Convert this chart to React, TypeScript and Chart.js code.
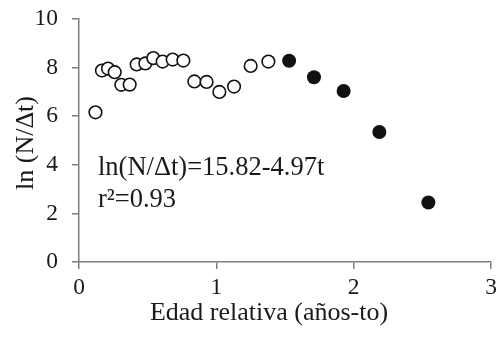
import React, { useEffect, useRef } from "react";
import { Chart, registerables } from "chart.js";

Chart.register(...registerables);

const openX = [0.12, 0.167, 0.211, 0.26, 0.308, 0.369, 0.42, 0.483, 0.541, 0.609, 0.682, 0.76, 0.84, 0.929, 1.022, 1.129, 1.25, 1.379];
const openY = [6.16, 7.88, 7.96, 7.81, 7.29, 7.3, 8.13, 8.17, 8.39, 8.25, 8.33, 8.29, 7.43, 7.41, 7.0, 7.22, 8.07, 8.25];
const filledX = [1.53, 1.711, 1.927, 2.187, 2.544];
const filledY = [8.28, 7.6, 7.04, 5.35, 2.45];

const xTicks = [0, 1, 2, 3];
const yTicks = [0, 2, 4, 6, 8, 10];

const xTitle = "Edad relativa (años-to)";
const yTitle = "ln (N/Δt)";
const eqLine1 = "ln(N/Δt)=15.82-4.97t";
const eqLine2 = "r²=0.93";

const FONT = "'Liberation Serif', 'Times New Roman', serif";

export default function App() {
  const ref = useRef<HTMLCanvasElement | null>(null);

  useEffect(() => {
    const canvas = ref.current;
    if (!canvas) return;

    const textPlugin = {
      id: "textPlugin",
      afterDraw(chart: any) {
        const ctx = chart.ctx;
        ctx.save();
        ctx.fillStyle = "#1a1a1a";
        ctx.font = `26px ${FONT}`;
        // x title
        ctx.textAlign = "center";
        ctx.textBaseline = "alphabetic";
        ctx.fillText(xTitle, 269, 320);
        // y title
        ctx.save();
        ctx.translate(33, 143);
        ctx.rotate(-Math.PI / 2);
        ctx.textAlign = "center";
        ctx.textBaseline = "alphabetic";
        ctx.fillText(yTitle, 0, 0);
        ctx.restore();
        // equation
        ctx.font = `26.5px ${FONT}`;
        ctx.textAlign = "left";
        ctx.fillText(eqLine1, 98, 175);
        ctx.fillText(eqLine2, 98, 207);
        ctx.restore();
      },
    };

    const zeroPad = (s: any) => {
      s.paddingTop = 0;
      s.paddingBottom = 0;
      s.paddingLeft = 0;
      s.paddingRight = 0;
    };

    const chart = new Chart(canvas, {
      type: "scatter",
      data: {
        datasets: [
          {
            label: "open",
            data: openX.map((x, i) => ({ x, y: openY[i] })),
            pointStyle: "circle",
            pointRadius: 6.3,
            pointBorderWidth: 1.6,
            borderColor: "#111",
            backgroundColor: "#fff",
          },
          {
            label: "filled",
            data: filledX.map((x, i) => ({ x, y: filledY[i] })),
            pointStyle: "circle",
            pointRadius: 7,
            pointBorderWidth: 0,
            borderColor: "#111",
            backgroundColor: "#111",
          },
        ],
      },
      options: {
        animation: false,
        responsive: false,
        devicePixelRatio: 1,
        layout: { padding: { top: 19, right: 12, left: 0, bottom: 0 } },
        plugins: {
          legend: { display: false },
          tooltip: { enabled: false },
        },
        scales: {
          x: {
            type: "linear",
            min: 0,
            max: 3,
            afterFit: (s: any) => {
              s.height = 75;
              zeroPad(s);
            },
            afterBuildTicks: (s: any) => {
              s.ticks = xTicks.map((v) => ({ value: v }));
            },
            ticks: {
              font: { family: FONT, size: 23.5 },
              color: "#1a1a1a",
              padding: 5,
              maxRotation: 0,
            },
            grid: {
              drawOnChartArea: false,
              drawTicks: true,
              tickLength: 7,
              color: "#7f7f7f",
              lineWidth: 1.5,
            },
            border: { color: "#7f7f7f", width: 1.5 },
          },
          y: {
            type: "linear",
            min: 0,
            max: 10,
            afterFit: (s: any) => {
              s.width = 79;
              zeroPad(s);
            },
            afterBuildTicks: (s: any) => {
              s.ticks = yTicks.map((v) => ({ value: v }));
            },
            ticks: {
              font: { family: FONT, size: 23.5 },
              color: "#1a1a1a",
              padding: 14,
            },
            grid: {
              drawOnChartArea: false,
              drawTicks: true,
              tickLength: 7,
              color: "#7f7f7f",
              lineWidth: 1.5,
            },
            border: { color: "#7f7f7f", width: 1.5 },
          },
        },
      },
      plugins: [textPlugin],
    });

    return () => chart.destroy();
  }, []);

  return (
    <div style={{ position: "absolute", left: 0, top: 0, width: 503, height: 337, background: "#fff" }}>
      <canvas ref={ref} width={503} height={337} style={{ display: "block" }} />
    </div>
  );
}
